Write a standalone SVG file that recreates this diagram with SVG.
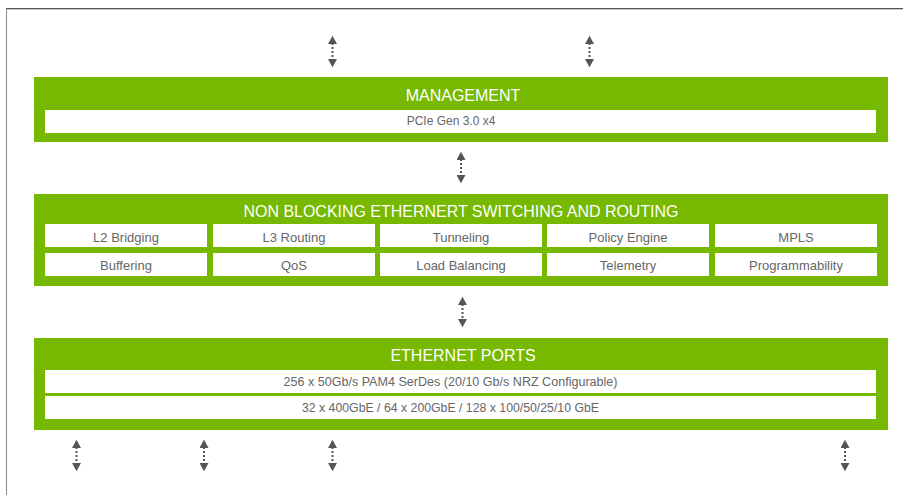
<svg xmlns="http://www.w3.org/2000/svg" width="903" height="495" viewBox="0 0 903 495">
<defs>
<style>
.blk{fill:#76b900}
.bar{fill:#ffffff}
.ttl{font-family:"Liberation Sans",Arial,sans-serif;font-size:16px;fill:#ffffff;text-anchor:middle}
.cell{font-family:"Liberation Sans",Arial,sans-serif;font-size:13px;fill:#666666;text-anchor:middle}
.sm{font-family:"Liberation Sans",Arial,sans-serif;font-size:12px;fill:#666666;text-anchor:middle}
.arr{stroke:#555555;stroke-width:2;stroke-dasharray:2 2;fill:none;marker-start:url(#ah);marker-end:url(#ah)}
</style>
<marker id="ah" viewBox="0 0 10 10" refX="1" refY="5" markerWidth="9" markerHeight="9" markerUnits="userSpaceOnUse" orient="auto-start-reverse">
<path d="M0,0 L9,5 L0,10 Z" fill="#555555"/>
</marker>
</defs>
<g id="frame">
<line x1="6.5" y1="8" x2="6.5" y2="495" stroke="#8a8a8a" stroke-width="1"/>
<line x1="6" y1="8.5" x2="903" y2="8.5" stroke="#555555" stroke-width="1"/>
<line x1="7" y1="9.5" x2="903" y2="9.5" stroke="#cccccc" stroke-width="1"/>
</g>
<g id="management">
<rect class="blk" x="34" y="77" width="854" height="65"/>
<text class="ttl" x="463" y="101">MANAGEMENT</text>
<rect class="bar" x="45" y="110" width="831" height="23"/>
<text class="sm" x="451" y="125">PCIe Gen 3.0 x4</text>
</g>
<g id="switching">
<rect class="blk" x="34" y="194" width="854" height="92"/>
<text class="ttl" x="461" y="217" textLength="435" lengthAdjust="spacingAndGlyphs">NON BLOCKING ETHERNERT SWITCHING AND ROUTING</text>
<g id="l2"><rect class="bar" x="45" y="224" width="162" height="23"/><text class="cell" x="126" y="241.5">L2 Bridging</text></g>
<g id="l3"><rect class="bar" x="213" y="224" width="162" height="23"/><text class="cell" x="294" y="241.5">L3 Routing</text></g>
<g id="tunneling"><rect class="bar" x="380" y="224" width="162" height="23"/><text class="cell" x="461" y="241.5">Tunneling</text></g>
<g id="policy"><rect class="bar" x="547" y="224" width="162" height="23"/><text class="cell" x="628" y="241.5">Policy Engine</text></g>
<g id="mpls"><rect class="bar" x="715" y="224" width="162" height="23"/><text class="cell" x="796" y="241.5">MPLS</text></g>
<g id="buffering"><rect class="bar" x="45" y="253" width="162" height="23"/><text class="cell" x="126" y="270">Buffering</text></g>
<g id="qos"><rect class="bar" x="213" y="253" width="162" height="23"/><text class="cell" x="294" y="270">QoS</text></g>
<g id="lb"><rect class="bar" x="380" y="253" width="162" height="23"/><text class="cell" x="461" y="270">Load Balancing</text></g>
<g id="telemetry"><rect class="bar" x="547" y="253" width="162" height="23"/><text class="cell" x="628" y="270">Telemetry</text></g>
<g id="prog"><rect class="bar" x="715" y="253" width="162" height="23"/><text class="cell" x="796" y="270">Programmability</text></g>
</g>
<g id="ports">
<rect class="blk" x="34" y="338" width="854" height="92"/>
<text class="ttl" x="463" y="361">ETHERNET PORTS</text>
<rect class="bar" x="45" y="370" width="831" height="23"/>
<text class="sm" x="450.5" y="385.5" textLength="334" lengthAdjust="spacingAndGlyphs">256 x 50Gb/s PAM4 SerDes (20/10 Gb/s NRZ Configurable)</text>
<rect class="bar" x="45" y="396" width="831" height="23"/>
<text class="sm" x="450.5" y="411.5" textLength="297" lengthAdjust="spacingAndGlyphs">32 x 400GbE / 64 x 200GbE / 128 x 100/50/25/10 GbE</text>
</g>
<g id="connectors">
<line class="arr" x1="332.5" y1="43" x2="332.5" y2="60"/>
<line class="arr" x1="589.5" y1="43" x2="589.5" y2="60"/>
<line class="arr" x1="461" y1="159" x2="461" y2="176"/>
<line class="arr" x1="462.5" y1="304" x2="462.5" y2="320"/>
<line class="arr" x1="76.5" y1="447" x2="76.5" y2="464"/>
<line class="arr" x1="204" y1="447" x2="204" y2="464"/>
<line class="arr" x1="332.5" y1="447" x2="332.5" y2="464"/>
<line class="arr" x1="845" y1="447" x2="845" y2="464"/>
</g>
</svg>
